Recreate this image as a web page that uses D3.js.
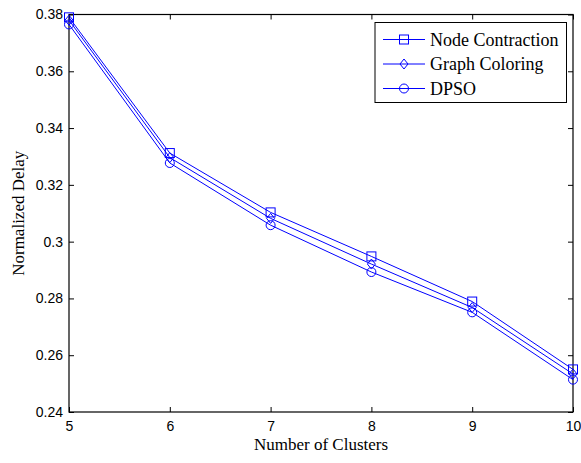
<!DOCTYPE html>
<html>
<head>
<meta charset="utf-8">
<script src="https://cdn.jsdelivr.net/npm/d3@7"></script>
<style>
  html, body { margin: 0; padding: 0; background: #fff; }
  svg { display: block; }
</style>
</head>
<body>
<script>
// Normalized delay vs. number of clusters for three clustering schemes
const clusters = [5, 6, 7, 8, 9, 10];
const nodeContraction = [0.3790, 0.3312, 0.3103, 0.2948, 0.2789, 0.2550];
const graphColoring   = [0.3780, 0.3296, 0.3082, 0.2921, 0.2768, 0.2534];
const dpso            = [0.3765, 0.3277, 0.3058, 0.2893, 0.2751, 0.2514];
const yTicks = [0.24, 0.26, 0.28, 0.30, 0.32, 0.34, 0.36, 0.38];
const seriesNames = ["Node Contraction", "Graph Coloring", "DPSO"];
const markers = ["square", "diamond", "circle"];

const W = 581, H = 463;
const margin = { left: 69, top: 14.5, right: 8, bottom: 51 };
const color = "#0000ff";

const svg = d3.select("body").append("svg").attr("width", W).attr("height", H);

const x = d3.scaleLinear().domain([5, 10]).range([margin.left, W - margin.right]);
const y = d3.scaleLinear().domain([0.24, 0.38]).range([H - margin.bottom, margin.top]);

const x0 = x.range()[0], x1 = x.range()[1];
const y0 = y.range()[0], y1 = y.range()[1];
const tickLen = 5;

// Axes with inward ticks, mirrored on the top and right edges
const tickFont = "'Liberation Sans', Arial, sans-serif";
const xAxis = d3.axisBottom(x).tickValues(clusters).tickSize(-tickLen).tickPadding(9).tickFormat(d3.format("d"));
const yAxis = d3.axisLeft(y).tickValues(yTicks).tickSize(-tickLen).tickPadding(6).tickFormat(d => String(+d.toFixed(2)));

const gx = svg.append("g").attr("transform", `translate(0,${y0})`).call(xAxis);
const gy = svg.append("g").attr("transform", `translate(${x0},0)`).call(yAxis);
const gxt = svg.append("g").attr("transform", `translate(0,${y1})`).call(d3.axisTop(x).tickValues(clusters).tickSize(-tickLen).tickFormat(""));
const gyr = svg.append("g").attr("transform", `translate(${x1},0)`).call(d3.axisRight(y).tickValues(yTicks).tickSize(-tickLen).tickFormat(""));

[gx, gy, gxt, gyr].forEach(g => {
  g.select(".domain").remove();
  g.selectAll(".tick line").attr("stroke", "#000").attr("stroke-width", 1);
  g.selectAll("text").attr("fill", "#000").style("font-family", tickFont).style("font-size", "14px");
});

// Plot frame
svg.append("rect")
  .attr("x", x0).attr("y", y1).attr("width", x1 - x0).attr("height", y0 - y1)
  .attr("fill", "none").attr("stroke", "#000").attr("stroke-width", 1.2);

// Marker drawing
function drawMarker(g, type, cx, cy) {
  if (type === "square") {
    g.append("rect").attr("x", cx - 4.5).attr("y", cy - 4.5).attr("width", 9).attr("height", 9)
      .attr("fill", "none").attr("stroke", color).attr("stroke-width", 1);
  } else if (type === "diamond") {
    g.append("path").attr("d", `M${cx},${cy - 5}L${cx + 4},${cy}L${cx},${cy + 5}L${cx - 4},${cy}Z`)
      .attr("fill", "none").attr("stroke", color).attr("stroke-width", 1);
  } else {
    g.append("circle").attr("cx", cx).attr("cy", cy).attr("r", 4.5)
      .attr("fill", "none").attr("stroke", color).attr("stroke-width", 1);
  }
}

const allSeries = [nodeContraction, graphColoring, dpso];
const line = d3.line().x((d, i) => x(clusters[i])).y(d => y(d));

allSeries.forEach((vals, si) => {
  const g = svg.append("g");
  g.append("path").datum(vals).attr("d", line)
    .attr("fill", "none").attr("stroke", color).attr("stroke-width", 1);
  vals.forEach((v, i) => drawMarker(g, markers[si], x(clusters[i]), y(v)));
});

// Legend
const serif = "'Liberation Serif', 'Times New Roman', serif";
const lg = svg.append("g");
lg.append("rect").attr("x", 375).attr("y", 22.5).attr("width", 191.5).attr("height", 80)
  .attr("fill", "#fff").attr("stroke", "#000").attr("stroke-width", 1);
seriesNames.forEach((name, i) => {
  const ly = 39.5 + i * 24.5;
  lg.append("line").attr("x1", 383).attr("x2", 425).attr("y1", ly).attr("y2", ly)
    .attr("stroke", color).attr("stroke-width", 1);
  drawMarker(lg, markers[i], 404, ly);
  lg.append("text").attr("x", 430).attr("y", ly + 6).text(name)
    .style("font-family", serif).style("font-size", "18px").attr("fill", "#000");
});

// Axis titles
svg.append("text").attr("x", (x0 + x1) / 2).attr("y", 450).attr("text-anchor", "middle")
  .text("Number of Clusters").style("font-family", serif).style("font-size", "17px");
svg.append("text").attr("transform", `translate(24,${(y0 + y1) / 2}) rotate(-90)`)
  .attr("text-anchor", "middle").text("Normalized Delay")
  .style("font-family", serif).style("font-size", "17px");
</script>
</body>
</html>
